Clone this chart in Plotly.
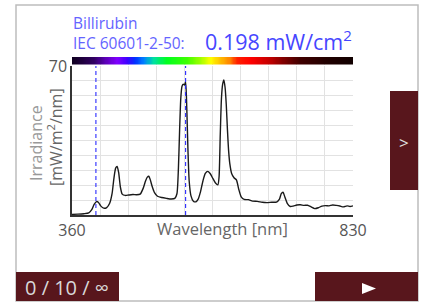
import numpy as np
import plotly.graph_objects as go

W, H = 425, 305

# ---------------- data ----------------
wavelength_nm = [360, 370, 380, 388, 393, 397, 401, 404, 408, 413, 418, 423, 427, 430, 433, 435.5,
                 438, 441, 444, 449, 455, 462, 468, 474, 479, 483, 486, 488.5, 491, 494, 498, 503,
                 510, 518, 526, 532, 535.5, 538, 540, 542, 544, 546, 548, 550, 552, 554, 556, 559,
                 563, 567, 571, 575, 579, 583, 587, 591, 595, 600, 604, 606, 608, 610, 612, 614,
                 616, 618, 620, 622, 624, 627, 631, 635, 639, 643, 648, 655, 662, 670, 678, 686,
                 694, 702, 707, 710, 713, 716, 720, 725, 730, 736, 742, 748, 754, 760, 766, 772,
                 778, 784, 790, 796, 802, 808, 814, 820, 825, 830]
irradiance = [0.3, 0.4, 0.6, 1.0, 2.5, 5.0, 6.3, 6.0, 4.3, 3.2, 3.5, 5.5, 10, 17, 22, 22.8,
              20, 13, 9.8, 9.2, 9.4, 9.6, 9.5, 9.8, 12.5, 16, 17.8, 18.2, 16.5, 13.5, 10.5, 8.8,
              8.2, 7.8, 7.5, 7.8, 10, 22, 40, 55, 60.5, 61.5, 61.0, 62.5, 50, 30, 16, 9,
              6.5, 6.2, 7.5, 11, 16, 19.5, 20.5, 19.5, 17.5, 15, 14.2, 18, 38, 55, 61.5, 63.5,
              60, 52, 40, 30, 24, 19.5, 17.5, 16.5, 12, 8.5, 7.3, 7.2, 6.5, 6.4, 6.0, 5.8,
              6.0, 6.1, 7.5, 10, 10.7, 8.5, 5.5, 4.0, 4.2, 4.7, 4.8, 4.5, 4.6, 3.8, 3.0, 3.4,
              4.2, 4.4, 4.3, 4.7, 4.5, 4.2, 3.8, 4.3, 4.0, 4.3]

band_limits_nm = [400, 550]          # Billirubin weighting band (dashed lines)
x_range = [360, 830]
y_range = [0, 70]
x_tick_vals = [360, 830]
x_tick_text = ["360", "830"]
y_tick_vals = [70]
y_tick_text = ["70"]

# spectrum colour strip
strip_nm = [360, 395, 418, 435, 451, 465, 479, 496, 518, 552, 574, 591, 607, 624, 635, 658, 691, 713, 741, 786, 830]
strip_hex = ["#100020", "#300060", "#6000c0", "#8000ff", "#4000ff", "#0030ff", "#0080ff", "#00e0a0",
             "#00ff20", "#40ff00", "#a0ff00", "#ffff00", "#ffc000", "#ff8000", "#ff2000", "#ff0000",
             "#c00000", "#800000", "#400000", "#200000", "#100000"]

title_line1 = "Billirubin"
title_line2 = "IEC 60601-2-50:"
value_text = "0.198 mW/cm<sup>2</sup>"
x_title = "Wavelength [nm]"
y_title_1 = "Irradiance"
y_title_2 = "[mW/m<sup>2</sup>/nm]"
counter_text = "0 / 10 / ∞"

# ---------------- helpers (pixel -> paper) ----------------
def px(x):
    return x / W

def py(y):
    return 1 - y / H

MAROON = "#58161c"
FONT = "Open Sans"

plot_l, plot_r, plot_t, plot_b = 72, 353, 66, 215
strip_t, strip_b = 57, 64.5

fig = go.Figure()

# colour strip heatmap
strip_x = np.linspace(x_range[0], x_range[1], 236)
lo, hi = strip_nm[0], strip_nm[-1]
cscale = [[(n - lo) / (hi - lo), c] for n, c in zip(strip_nm, strip_hex)]
fig.add_trace(go.Heatmap(x=strip_x, y=[0], z=[strip_x], colorscale=cscale, zmin=lo, zmax=hi,
                         showscale=False, zsmooth="best", hoverinfo="skip", yaxis="y2"))

# spectrum curve
fig.add_trace(go.Scatter(x=wavelength_nm, y=irradiance, mode="lines",
                         line=dict(color="#1a1a1a", width=1.4, shape="spline", smoothing=0.6),
                         hoverinfo="skip", showlegend=False))

grid_c = "#e2e2e2"
fig.update_layout(
    width=W, height=H, autosize=False,
    margin=dict(l=0, r=0, t=0, b=0, pad=0, autoexpand=False),
    paper_bgcolor="white", plot_bgcolor="white",
    showlegend=False,
    font=dict(family=FONT, color="#555"),
    xaxis=dict(domain=[px(plot_l), px(plot_r)], range=x_range, tickvals=x_tick_vals, ticktext=x_tick_text,
               showgrid=False, ticks="", tickfont=dict(size=16, color="#555"), automargin=False,
               showline=True, linecolor="#333", linewidth=1.5, zeroline=False,
               minor=dict(tick0=360, dtick=47, showgrid=True, gridcolor=grid_c, gridwidth=1, ticks=""),
               fixedrange=True),
    yaxis=dict(domain=[py(plot_b), py(plot_t)], range=y_range, tickvals=y_tick_vals, ticktext=y_tick_text,
               showgrid=False, ticks="", tickfont=dict(size=16, color="#555"), automargin=False,
               showline=True, linecolor="#333", linewidth=1.5, zeroline=False,
               minor=dict(tick0=0, dtick=7, showgrid=True, gridcolor=grid_c, gridwidth=1, ticks=""),
               fixedrange=True),
    yaxis2=dict(domain=[py(strip_b), py(strip_t)], anchor="x", showticklabels=False, showgrid=False,
                zeroline=False, range=[-0.5, 0.5], fixedrange=True, automargin=False),
)

shapes = []
# dashed band lines
for wl in band_limits_nm:
    shapes.append(dict(type="line", xref="x", yref="paper", x0=wl, x1=wl, y0=py(plot_b), y1=py(plot_t),
                       line=dict(color="#2a2aff", width=1.1, dash="4px,3px")))
# outer frame
shapes.append(dict(type="rect", xref="paper", yref="paper", x0=px(16), x1=px(418), y0=py(301), y1=py(5),
                   line=dict(color="#bdbdbd", width=1.5)))
# buttons
for (x0, x1, y0, y1) in [(390, 418, 91, 190), (16, 119, 272, 301), (315, 418, 272, 301)]:
    shapes.append(dict(type="rect", xref="paper", yref="paper", x0=px(x0), x1=px(x1), y0=py(y1), y1=py(y0),
                       fillcolor=MAROON, line=dict(width=0), layer="above"))
# play triangle
tri = f"M {px(362)} {py(283)} L {px(376)} {py(288.5)} L {px(362)} {py(294)} Z"
shapes.append(dict(type="path", xref="paper", yref="paper", path=tri, fillcolor="white",
                   line=dict(width=0), layer="above"))
fig.update_layout(shapes=shapes)

ann = []
ann.append(dict(text=title_line1 + "<br>" + title_line2, x=px(71), y=py(33.5), xref="paper", yref="paper",
                xanchor="left", yanchor="middle", align="left", showarrow=False,
                font=dict(size=15.5, color="#6464ff", family=FONT)))
ann.append(dict(text=value_text, x=px(354), y=py(40), xref="paper", yref="paper", xanchor="right",
                yanchor="middle", showarrow=False, font=dict(size=21.5, color="#4646ff", family=FONT)))
ann.append(dict(text=x_title, x=px(222), y=py(228), xref="paper", yref="paper", xanchor="center",
                yanchor="middle", showarrow=False, font=dict(size=16.5, color="#666", family=FONT)))
ann.append(dict(text=y_title_1, x=px(36), y=py(143), xref="paper", yref="paper", xanchor="center",
                yanchor="middle", textangle=-90, showarrow=False, font=dict(size=16, color="#999", family=FONT)))
ann.append(dict(text=y_title_2, x=px(55), y=py(137), xref="paper", yref="paper", xanchor="center",
                yanchor="middle", textangle=-90, showarrow=False, font=dict(size=16, color="#666", family=FONT)))
ann.append(dict(text=counter_text, x=px(23), y=py(287), xref="paper", yref="paper", xanchor="left",
                yanchor="middle", showarrow=False, font=dict(size=20, color="#d8d8d8", family=FONT)))
ann.append(dict(text="&gt;", x=px(404), y=py(142), xref="paper", yref="paper", xanchor="center",
                yanchor="middle", showarrow=False, font=dict(size=17, color="#e0e0e0", family=FONT)))
fig.update_layout(annotations=ann)

fig.write_html("out.html", config={"displayModeBar": False},
               post_script="document.body.style.margin='0px';document.body.style.overflow='hidden';")
